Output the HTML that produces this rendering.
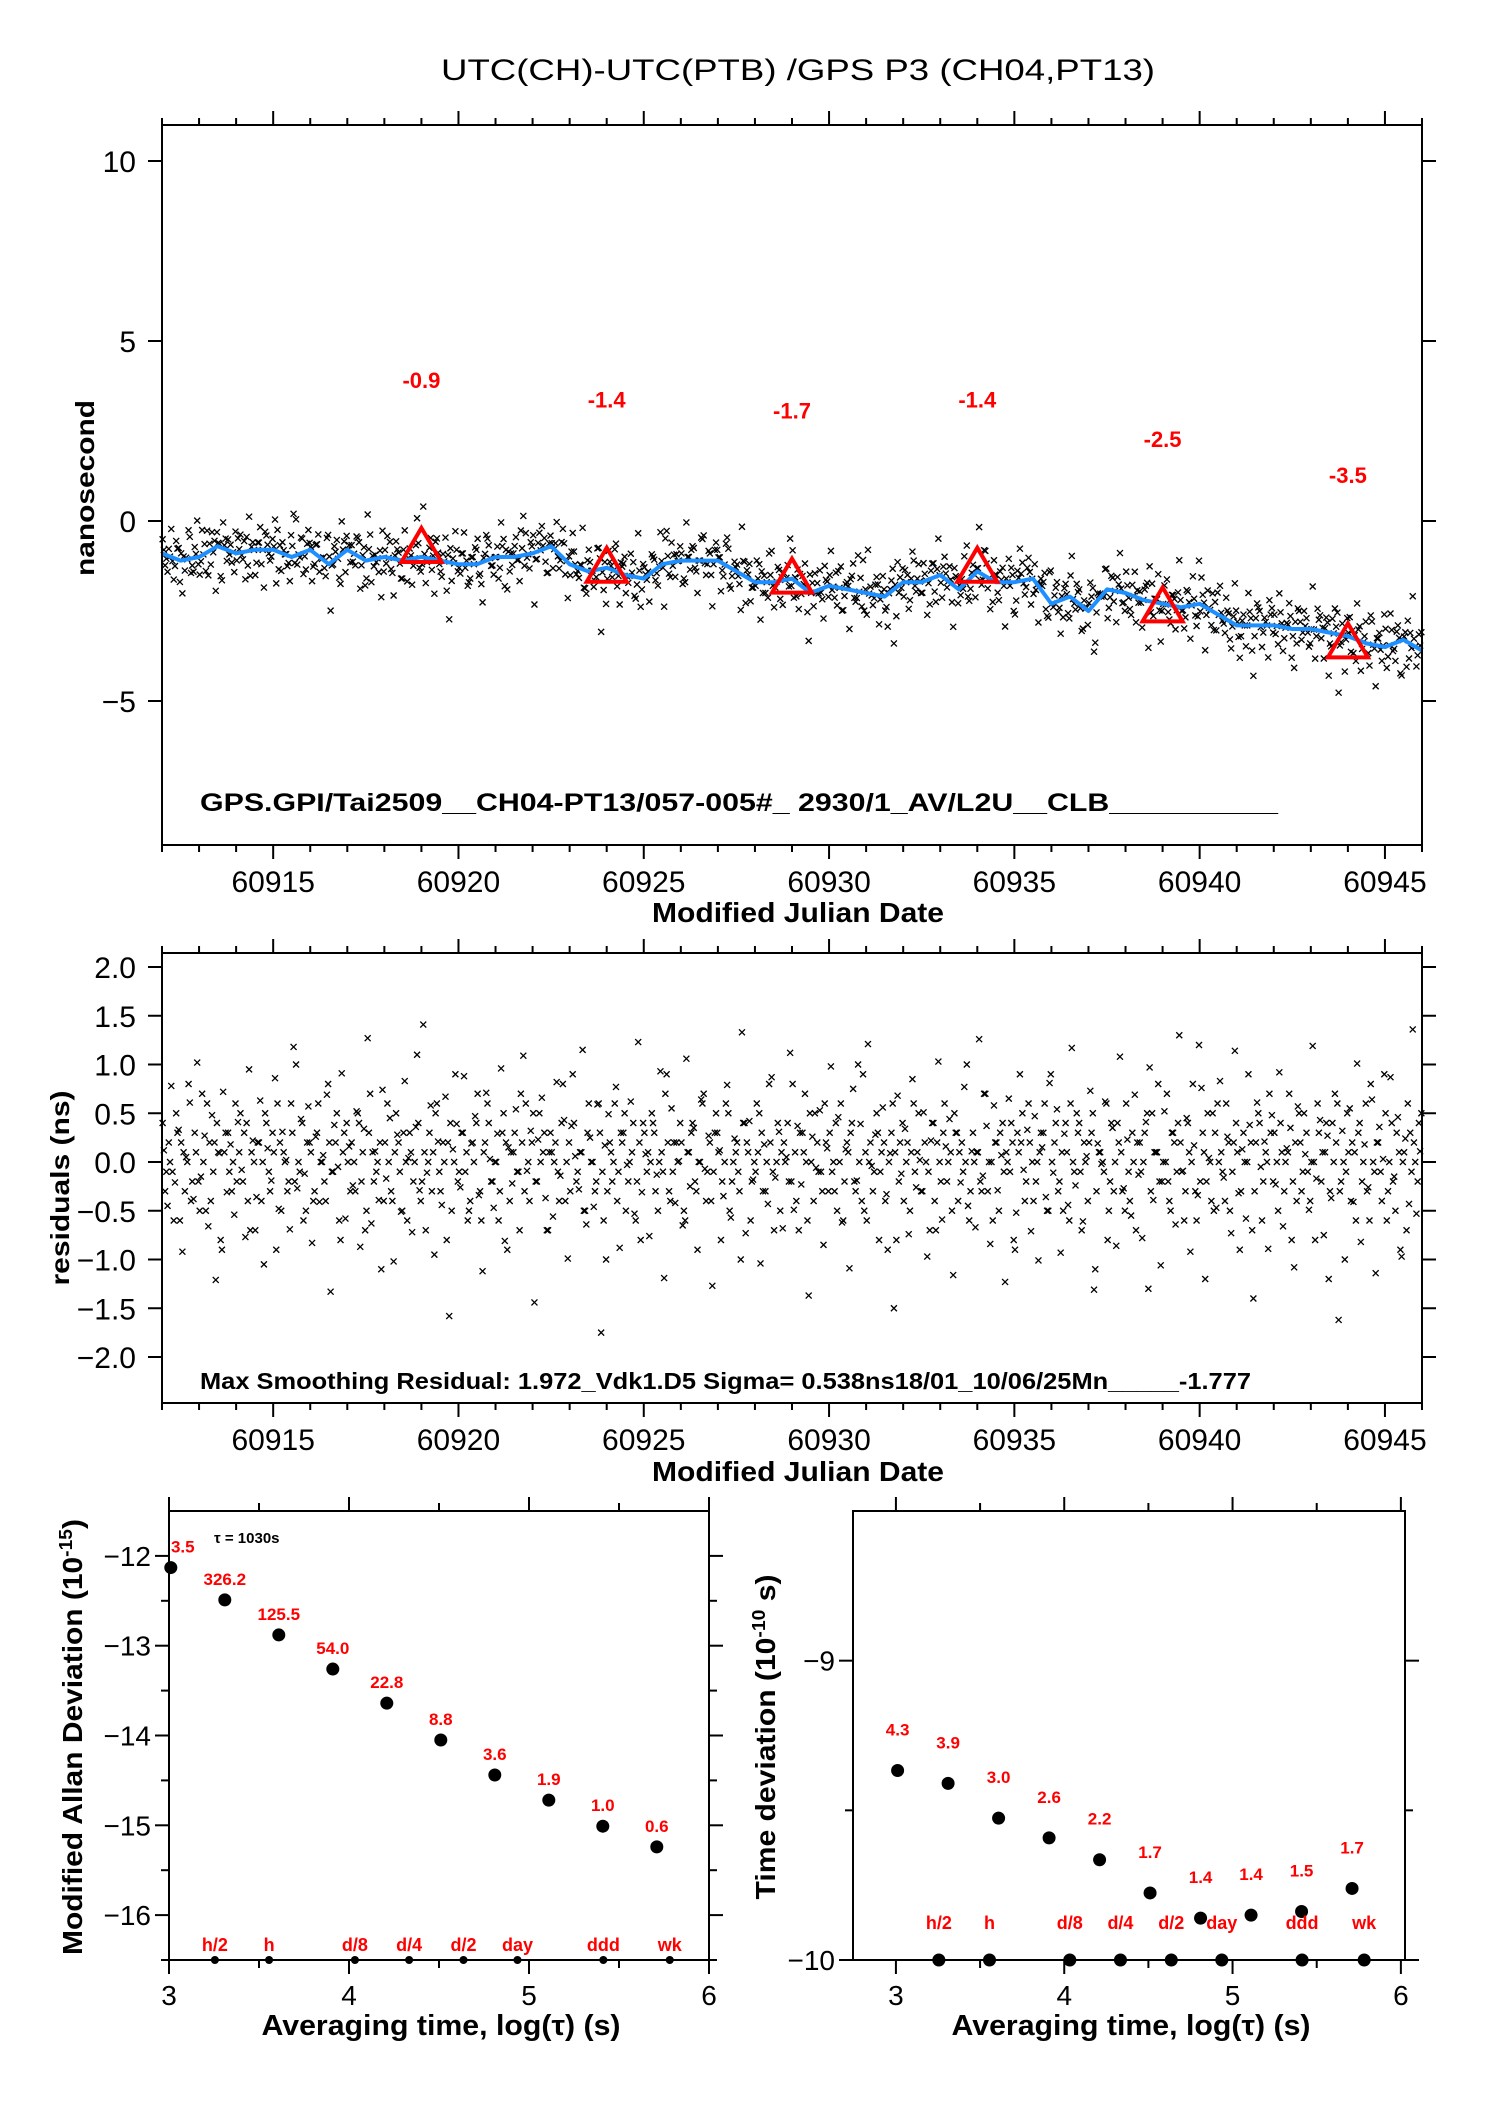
<!DOCTYPE html>
<html><head><meta charset="utf-8"><style>
html,body{margin:0;padding:0;background:#fff}
svg{display:block}
text{font-family:"Liberation Sans",Arial,sans-serif}
</style></head><body>
<svg id="chart" xmlns="http://www.w3.org/2000/svg" width="1488" height="2105" viewBox="0 0 1488 2105">
<rect width="1488" height="2105" fill="#fff"/>
<text x="798" y="80" font-size="30" text-anchor="middle" textLength="714" lengthAdjust="spacingAndGlyphs">UTC(CH)-UTC(PTB)  /GPS  P3  (CH04,PT13)</text>
<g id="g1"></g>
<g id="g2"></g>
<g id="g3"></g>
<g id="g4"></g>
</svg>
<script>
// ---- data ----
const trendDays = [60912,60912.5,60913,60913.5,60914,60914.5,60915,60915.5,60916,60916.5,60917,60917.5,60918,60918.5,60919,60919.5,60920,60920.5,60921,60921.5,60922,60922.5,60923,60923.5,60924,60924.5,60925,60925.5,60926,60926.5,60927,60927.5,60928,60928.5,60929,60929.5,60930,60930.5,60931,60931.5,60932,60932.5,60933,60933.5,60934,60934.5,60935,60935.5,60936,60936.5,60937,60937.5,60938,60938.5,60939,60939.5,60940,60940.5,60941,60941.5,60942,60942.5,60943,60943.5,60944,60944.5,60945,60945.5,60946];
const trendValues = [-0.9,-1.1,-1.0,-0.7,-0.9,-0.8,-0.8,-1.0,-0.8,-1.2,-0.8,-1.1,-1.0,-1.1,-1.0,-1.1,-1.2,-1.2,-1.0,-1.0,-0.9,-0.7,-1.2,-1.4,-1.3,-1.5,-1.6,-1.2,-1.1,-1.1,-1.1,-1.4,-1.7,-1.7,-1.6,-2.0,-1.8,-1.9,-2.0,-2.1,-1.7,-1.7,-1.5,-1.9,-1.4,-1.7,-1.7,-1.6,-2.3,-2.1,-2.5,-1.9,-2.0,-2.2,-2.3,-2.4,-2.3,-2.6,-2.9,-2.9,-2.9,-3.0,-3.0,-3.1,-3.2,-3.4,-3.5,-3.3,-3.6];
const markerDays = [60919,60924,60929,60934,60939,60944];
const markerValues = [-0.75,-1.3,-1.6,-1.3,-2.4,-3.4];
const markerLabels = ["-0.9","-1.4","-1.7","-1.4","-2.5","-3.5"];
const residuals = [0.12,-0.45,0.78,-0.21,0.33,-0.92,0.05,0.61,-0.38,1.02,-0.15,0.27,-0.66,0.48,-1.21,0.09,0.72,-0.31,0.18,-0.54,
0.41,-0.08,-0.77,0.95,0.22,-0.36,0.63,-1.05,0.14,-0.19,0.86,-0.48,0.31,0.02,-0.69,1.18,-0.27,0.44,-0.12,0.57,
-0.83,0.26,-0.41,0.07,0.69,-1.33,0.38,-0.05,0.91,-0.58,0.16,-0.24,0.52,-0.87,0.34,1.27,-0.63,0.11,-0.39,0.74,
-0.17,0.45,-1.02,0.28,-0.51,0.83,0.04,-0.72,0.36,-0.29,1.41,-0.11,0.58,-0.95,0.21,-0.44,0.67,-1.58,0.13,0.39,
-0.26,0.88,-0.6,0.19,0.47,-0.34,-1.12,0.71,0.03,-0.47,0.29,0.96,-0.81,0.15,-0.22,0.54,-0.7,1.09,-0.09,0.32,
-1.44,0.23,0.66,-0.37,0.1,-0.56,0.82,-0.14,0.43,-0.99,0.37,0.06,-0.28,1.15,-0.64,0.25,-0.46,0.59,-1.75,0.17,
0.49,-0.2,0.77,-0.88,0.3,-0.03,0.62,-0.53,1.23,-0.31,0.08,-0.76,0.4,-0.13,0.93,-1.19,0.2,0.55,-0.42,0.01,
-0.65,1.06,-0.25,0.35,-0.9,0.64,-0.07,0.27,-1.27,0.5,0.12,-0.35,0.79,-0.57,0.24,-0.1,1.33,-0.73,0.42,-0.18,
0.6,-1.04,0.18,-0.43,0.87,-0.16,0.31,-0.68,0.05,1.12,-0.49,0.37,-0.23,0.7,-1.37,0.26,-0.06,0.53,-0.85,0.14,
0.98,-0.3,0.46,-0.62,0.13,-1.09,0.75,-0.19,0.39,-0.5,1.21,-0.04,0.28,-0.8,0.56,-0.33,0.09,-1.5,0.68,-0.12,
0.34,-0.74,0.85,-0.26,0.02,0.51,-0.97,0.22,-0.4,1.03,-0.59,0.16,0.44,-1.16,0.3,-0.21,0.77,-0.45,0.11,-0.67,
1.26,-0.14,0.37,-0.84,0.58,-0.29,0.07,-1.23,0.65,0.2,-0.52,0.9,-0.08,0.33,-0.71,0.47,-1.01,0.15,-0.36,0.81,
-0.11,0.54,-0.93,0.29,-0.44,1.17,-0.24,0.4,-0.61,0.06,0.73,-1.31,0.19,-0.02,0.62,-0.5,0.35,-0.86,1.08,-0.27,
0.23,-0.55,0.69,-0.13,-0.78,0.41,0.97,-0.39,0.1,-1.06,0.52,-0.2,0.3,-0.64,1.3,-0.09,0.45,-0.92,0.17,-0.34,
0.76,-1.2,0.04,0.5,-0.47,0.83,-0.16,0.26,-0.73,1.14,-0.32,0.13,-0.58,0.38,-1.4,0.61,-0.05,0.21,-0.89,0.48,
-0.23,0.92,-0.66,0.14,0.35,-1.08,0.57,-0.3,0.08,-0.49,1.19,-0.17,0.43,-0.75,0.27,-0.37,0.7,-1.62,0.32,-0.1,
0.55,-0.41,1.01,-0.82,0.18,-0.26,0.64,-1.14,0.36,0.03,-0.6,0.87,-0.15,0.46,-0.97,0.24,-0.43,1.36,-0.53,0.11];
const residualsB = [-0.3,0.2,-0.1,0.5,-0.6,0.1,0.0,-0.4,0.3,-0.2,0.7,-0.5,0.2,-0.1,0.4,-0.8,0.1,0.3,-0.3,0.6,
0.1,-0.2,0.4,-0.7,0.0,0.2,-0.4,0.5,-0.1,0.3,-0.9,0.2,0.1,-0.3,0.6,-0.2,0.0,0.4,-0.5,0.2,
-0.4,0.3,0.0,-0.2,0.8,-0.1,0.2,-0.6,0.1,0.4,-0.3,0.0,0.5,-0.2,-0.7,0.3,0.1,-0.1,0.2,-0.4,
0.6,-0.3,0.1,0.2,-0.5,0.0,0.3,-0.2,1.1,-0.4,0.1,0.0,-0.3,0.5,-0.1,0.2,-0.8,0.4,0.0,-0.2,
0.3,-0.1,-0.5,0.2,0.4,-0.3,0.1,0.6,-0.2,0.0,-0.6,0.3,0.2,-0.4,0.1,-0.1,0.7,-0.3,0.0,0.2,
-0.2,0.5,0.1,-0.7,0.3,0.0,-0.1,0.4,-0.4,0.2,0.9,-0.2,0.1,-0.5,0.3,0.0,-0.3,0.6,-0.1,-1.0,
0.2,0.0,-0.4,0.3,0.5,-0.2,0.1,-0.6,0.2,0.4,-0.1,0.0,0.3,-0.5,0.1,0.7,-0.3,-0.1,0.2,0.4,
-0.5,0.1,0.3,-0.2,0.0,0.6,-0.4,0.2,-0.1,0.3,-0.8,0.0,0.5,-0.2,0.1,-0.3,0.4,0.2,-0.6,0.0,
0.1,0.3,-0.3,0.8,-0.1,0.0,-0.5,0.2,0.4,-0.2,0.1,-0.7,0.3,0.0,0.5,-0.4,0.2,-0.1,0.6,-0.3,
-0.1,0.4,0.0,-0.6,0.2,0.3,-0.2,1.0,-0.4,0.1,0.0,-0.3,0.5,-0.1,0.2,-0.9,0.3,0.1,-0.2,0.4,
0.0,-0.5,0.6,0.1,-0.3,0.2,-0.1,0.4,-0.7,0.0,0.3,-0.2,0.1,0.5,-0.4,0.2,0.0,-0.6,0.3,0.1,
-0.2,0.7,-0.3,0.0,0.2,-0.5,0.4,0.1,-0.1,-0.8,0.3,0.2,-0.4,0.6,0.0,-0.2,0.1,0.3,-0.5,0.9,
0.2,-0.3,0.1,0.4,-0.6,0.0,0.5,-0.1,0.2,-0.4,0.3,-1.1,0.1,0.0,0.6,-0.2,-0.3,0.4,0.1,-0.5,
-0.1,0.3,-0.7,0.2,0.0,0.5,-0.3,0.1,0.8,-0.2,0.0,-0.4,0.3,-0.1,0.2,-0.6,0.4,0.0,-0.3,1.2,
0.3,-0.2,0.0,-0.5,0.6,0.1,-0.4,0.2,-0.1,0.4,-0.9,0.3,0.0,0.2,-0.3,0.5,-0.6,0.1,0.7,-0.2,
0.0,0.4,-0.3,0.1,-0.8,0.2,0.5,-0.1,0.3,-0.4,0.0,0.6,-0.2,0.1,-1.2,0.4,0.2,-0.3,0.0,0.5,
-0.4,0.1,0.3,-0.2,0.6,-0.6,0.0,0.2,-0.1,0.9,-0.3,0.4,-0.5,0.1,0.0,-0.7,0.3,0.2,-0.2,0.5];
const residualsC = [0.4,-0.1,0.0,-0.6,0.3,0.2,-0.3,0.8,-0.2,0.1,-0.5,0.0,0.6,-0.4,0.2,0.1,-0.9,0.3,-0.1,0.0,
-0.2,0.5,0.3,-0.4,0.1,-0.7,0.2,0.0,0.4,-0.3,0.1,0.6,-0.5,0.0,-0.2,0.3,1.0,-0.1,-0.6,0.2,
0.1,-0.3,0.6,0.0,-0.4,0.2,-0.1,0.5,-0.8,0.3,0.0,0.2,-0.3,0.4,0.1,-0.5,0.7,-0.2,0.0,-1.1,
0.2,0.0,-0.4,0.5,-0.1,0.3,-0.6,0.1,0.0,0.4,-0.2,-0.7,0.3,0.1,0.6,-0.3,0.0,0.2,-0.5,0.9,
-0.1,0.3,0.1,-0.4,0.0,0.7,-0.6,0.2,0.4,-0.2,0.0,-0.3,0.5,-0.9,0.1,0.3,-0.1,0.2,0.6,-0.4,
0.5,-0.2,0.0,0.3,-0.7,0.1,0.2,-0.4,0.8,0.0,-0.3,0.4,-0.1,0.1,-0.5,0.6,0.0,-0.2,0.3,-0.6,
-0.3,0.1,0.6,-0.1,0.2,-0.5,0.0,0.4,-0.2,-0.8,0.3,0.1,0.5,-0.3,0.0,-0.1,0.9,-0.4,0.2,0.0,
0.2,-0.6,0.1,0.4,-0.3,0.0,0.7,-0.1,-0.4,0.3,0.1,-0.2,0.6,-0.5,0.0,0.2,-1.0,0.4,0.1,-0.2,
-0.1,0.5,-0.3,0.0,0.2,-0.7,0.4,0.1,0.0,-0.2,0.8,-0.4,0.3,0.1,-0.6,0.0,0.5,-0.1,-0.3,0.2,
0.3,0.0,-0.5,0.6,-0.2,0.1,0.4,-0.3,0.0,0.9,-0.6,0.2,-0.1,0.3,0.1,-0.4,0.0,0.6,-0.8,0.2,
-0.4,0.2,0.1,-0.1,0.5,-0.3,0.0,-0.7,0.4,0.2,-0.2,0.6,0.0,-0.5,0.3,0.1,-0.1,1.0,-0.3,0.0,
0.1,-0.3,0.7,0.0,-0.6,0.2,0.3,-0.1,0.0,0.4,-0.9,0.1,0.5,-0.2,0.2,-0.4,0.0,0.3,0.6,-0.5,
0.0,0.4,-0.2,-0.5,0.1,0.6,-0.1,0.3,-0.7,0.0,0.2,0.5,-0.3,0.1,-0.1,-0.8,0.4,0.0,0.2,-0.3,
0.6,-0.4,0.0,0.2,-0.1,0.3,-1.3,0.5,0.1,-0.2,0.0,0.7,-0.5,0.2,0.4,-0.1,-0.3,0.1,0.8,-0.6,
-0.2,0.1,0.5,-0.4,0.3,0.0,-0.1,0.6,-0.5,0.2,0.1,-0.3,0.0,0.9,-0.7,0.2,0.4,-0.2,0.0,0.3,
0.3,-0.5,0.1,0.0,0.7,-0.2,-0.4,0.2,0.5,-0.1,0.0,-0.8,0.3,0.1,0.4,-0.3,0.0,0.6,-0.2,-1.0,
0.1,0.2,-0.6,0.4,0.0,-0.3,0.8,-0.1,0.2,-0.4,0.5,0.0,-0.2,0.3,-0.9,0.1,0.6,-0.1,0.0,0.4];
const mjdTicks = [60915,60920,60925,60930,60935,60940,60945];
const p1YTicks = [-5,0,5,10];
const p2YTicks = [-2.0,-1.5,-1.0,-0.5,0.0,0.5,1.0,1.5,2.0];
const mdevLogTau = [3.01,3.31,3.61,3.91,4.21,4.51,4.81,5.11,5.41,5.71];
const mdevValues = [-12.13,-12.49,-12.88,-13.26,-13.64,-14.05,-14.44,-14.72,-15.01,-15.24];
const mdevLabels = ["3.5","326.2","125.5","54.0","22.8","8.8","3.6","1.9","1.0","0.6"];
const tdevLogTau = [3.01,3.31,3.61,3.91,4.21,4.51,4.81,5.11,5.41,5.71];
const tdevValues = [-9.367,-9.41,-9.526,-9.592,-9.665,-9.776,-9.86,-9.85,-9.838,-9.761];
const tdevLabels = ["4.3","3.9","3.0","2.6","2.2","1.7","1.4","1.4","1.5","1.7"];
const periodLogTau = [3.255,3.556,4.033,4.334,4.636,4.936,5.413,5.782];
const periodLabels = ["h/2","h","d/8","d/4","d/2","day","ddd","wk"];
const mdevYTicks = [-16,-15,-14,-13,-12];
const tdevYTicks = [-10,-9];
const logTicks = [3,4,5,6];

// ---- helpers ----
const NS='http://www.w3.org/2000/svg';
function el(parent,tag,attrs,txt){const e=document.createElementNS(NS,tag);for(const k in attrs)e.setAttribute(k,attrs[k]);if(txt!==undefined)e.textContent=txt;parent.appendChild(e);return e;}
function lin(d0,d1,r0,r1){return v=>r0+(v-d0)*(r1-r0)/(d1-d0);}
function trendAt(t){for(let i=0;i<trendDays.length-1;i++){if(t<=trendDays[i+1]){const f=(t-trendDays[i])/(trendDays[i+1]-trendDays[i]);return trendValues[i]+f*(trendValues[i+1]-trendValues[i]);}}return trendValues[trendValues.length-1];}
function frame(g,L,T,R,B){const r=el(g,'rect',{x:L,y:T,width:R-L,height:B-T,fill:'none',stroke:'#000','stroke-width':2});

}
function tick(g,x1,y1,x2,y2){el(g,'line',{x1,y1,x2,y2,stroke:'#000','stroke-width':2});}
function cross(g,x,y){const p=el(g,'path',{d:`M${x-3} ${y-3}L${x+3} ${y+3}M${x-3} ${y+3}L${x+3} ${y-3}`,stroke:'#000','stroke-width':1.3,fill:'none'});

}
const seriesSets=[[residuals,0.05],[residualsB,0.083],[residualsC,0.017]];

// ---- Panel 1 ----
(function(){
const g=document.getElementById('g1');
const L=162,R=1422,T=125,B=845;
const x=lin(60912,60946,L,R), y=lin(-9,11,B,T);
seriesSets.forEach(([arr,off])=>{for(let i=0;i<arr.length;i++){const t=60912+off+i*0.1;cross(g,x(t),y(trendAt(t)+arr[i]));}});
let d='';trendDays.forEach((t,i)=>{d+=(i?'L':'M')+x(t).toFixed(1)+' '+y(trendValues[i]).toFixed(1);});
const line=el(g,'path',{d,stroke:'#1e8fff','stroke-width':4,fill:'none','stroke-linejoin':'round'});


markerDays.forEach((t,i)=>{const cx=x(t),cy=y(markerValues[i]);
const tri=el(g,'path',{d:`M${cx} ${cy-20}L${cx+20} ${cy+14}L${cx-20} ${cy+14}Z`,fill:'none',stroke:'#f00','stroke-width':4});


const lb=el(g,'text',{x:cx,y:y(markerValues[i]+4.45),'font-size':22,'font-weight':'bold',fill:'#f00','text-anchor':'middle'},markerLabels[i]);

});
frame(g,L,T,R,B);
for(let dd=60912;dd<=60946;dd++){const maj=dd%5===0;const len=maj?14:7;tick(g,x(dd),T,x(dd),T-len);tick(g,x(dd),B,x(dd),B+len);}
mjdTicks.forEach(v=>{const t=el(g,'text',{x:x(v),y:892,'font-size':30,'text-anchor':'middle'},String(v));

});
p1YTicks.forEach(v=>{tick(g,L,y(v),L-14,y(v));tick(g,R,y(v),R+14,y(v));
const t=el(g,'text',{x:136,y:y(v)+11,'font-size':30,'text-anchor':'end'},v<0?'\u2212'+Math.abs(v):String(v));

});
const xt=el(g,'text',{x:798,y:922,'font-size':28,'font-weight':'bold','text-anchor':'middle',textLength:292,lengthAdjust:'spacingAndGlyphs'},'Modified Julian Date');


const yt=el(g,'text',{x:0,y:0,'font-size':26,'font-weight':'bold','text-anchor':'middle',transform:'translate(94,488) rotate(-90)',textLength:176,lengthAdjust:'spacingAndGlyphs'},'nanosecond');


const an=el(g,'text',{x:200,y:811,'font-size':25,'font-weight':'bold',textLength:1078,lengthAdjust:'spacingAndGlyphs'},'GPS.GPI/Tai2509__CH04-PT13/057-005#_  2930/1_AV/L2U__CLB__________');


})();

// ---- Panel 2 ----
(function(){
const g=document.getElementById('g2');
const L=162,R=1422,T=953,B=1403;
const x=lin(60912,60946,L,R), y=lin(-2.0,2.0,1357,967);
seriesSets.forEach(([arr,off])=>{for(let i=0;i<arr.length;i++){const t=60912+off+i*0.1;cross(g,x(t),y(arr[i]));}});
frame(g,L,T,R,B);
for(let dd=60912;dd<=60946;dd++){const maj=dd%5===0;const len=maj?14:7;tick(g,x(dd),T,x(dd),T-len);tick(g,x(dd),B,x(dd),B+len);}
mjdTicks.forEach(v=>{const t=el(g,'text',{x:x(v),y:1450,'font-size':30,'text-anchor':'middle'},String(v));

});
p2YTicks.forEach(v=>{tick(g,L,y(v),L-14,y(v));tick(g,R,y(v),R+14,y(v));
const s=v<0?'\u2212'+Math.abs(v).toFixed(1):v.toFixed(1);
const t=el(g,'text',{x:136,y:y(v)+11,'font-size':30,'text-anchor':'end'},s);

});
const xt=el(g,'text',{x:798,y:1481,'font-size':28,'font-weight':'bold','text-anchor':'middle',textLength:292,lengthAdjust:'spacingAndGlyphs'},'Modified Julian Date');


const yt=el(g,'text',{x:0,y:0,'font-size':26,'font-weight':'bold','text-anchor':'middle',transform:'translate(69,1188) rotate(-90)',textLength:195,lengthAdjust:'spacingAndGlyphs'},'residuals (ns)');


const an=el(g,'text',{x:200,y:1389,'font-size':23,'font-weight':'bold',textLength:1051,lengthAdjust:'spacingAndGlyphs'},'Max Smoothing Residual: 1.972_Vdk1.D5  Sigma= 0.538ns18/01_10/06/25Mn_____-1.777');


})();

// ---- Stability panels ----
function stabPanel(id,L,R,T,B,xd0,xd1,yd0,yd1,xs,ys,labs,yTicks,minorY,labOff,periodY,dotR,yTitle,yTitleX,yTitleLen,extra){
const g=document.getElementById(id);
const x=lin(xd0,xd1,L,R), y=lin(yd0,yd1,B,T);
frame(g,L,T,R,B);
for(let v=3;v<=6;v+=0.5){const maj=Number.isInteger(v);const len=maj?14:8;tick(g,x(v),T,x(v),T-len);tick(g,x(v),B,x(v),B+len);}
minorY.forEach(v=>{const maj=yTicks.includes(v);const len=maj?14:8;tick(g,L,y(v),L-len,y(v));tick(g,R,y(v),R+len,y(v));});
logTicks.forEach(v=>{const t=el(g,'text',{x:x(v),y:2005,'font-size':28,'text-anchor':'middle'},String(v));

});
yTicks.forEach(v=>{const t=el(g,'text',{x:L-18,y:y(v)+10,'font-size':28,'text-anchor':'end'},'\u2212'+Math.abs(v));

});
xs.forEach((v,i)=>{const c=el(g,'circle',{cx:x(v),cy:y(ys[i]),r:6.5,fill:'#000'});


const t=el(g,'text',{x:x(v)+(i===0&&id==='g3'?12:0),y:y(ys[i])-labOff,'font-size':17,'font-weight':'bold',fill:'#f00','text-anchor':'middle'},labs[i]);

});
periodLogTau.forEach((v,i)=>{const c=el(g,'circle',{cx:x(v),cy:B,r:dotR,fill:'#000'});


const t=el(g,'text',{x:x(v),y:periodY,'font-size':18,'font-weight':'bold',fill:'#f00','text-anchor':'middle'},periodLabels[i]);

});
const xt=el(g,'text',{x:(L+R)/2+2,y:2035,'font-size':29,'font-weight':'bold','text-anchor':'middle',textLength:359,lengthAdjust:'spacingAndGlyphs'},'Averaging time, log(τ) (s)');


const yt=el(g,'text',{x:0,y:0,'font-size':28,'font-weight':'bold','text-anchor':'middle',transform:`translate(${yTitleX},1737) rotate(-90)`,textLength:yTitleLen,lengthAdjust:'spacingAndGlyphs'});


yt.innerHTML=yTitle;
if(extra)extra(g,x,y);
}
stabPanel('g3',169,709,1511,1960,3,6,-16.5,-11.5,mdevLogTau,mdevValues,mdevLabels,mdevYTicks,[-16.5,-16,-15.5,-15,-14.5,-14,-13.5,-13,-12.5,-12],15,1951,4,
'Modified Allan Deviation (10<tspan dy="-10" font-size="18">-15</tspan><tspan dy="10">)</tspan>',82,436,
(g)=>{const t=el(g,'text',{x:214,y:1543,'font-size':15,'font-weight':'bold'},'τ = 1030s');

});
stabPanel('g4',853,1405,1511,1960,2.745,6.0245,-10,-8.5,tdevLogTau,tdevValues,tdevLabels,tdevYTicks,[-10,-9.5,-9],35,1929,6.5,
'Time deviation (10<tspan dy="-10" font-size="18">-10</tspan><tspan dy="10"> s)</tspan>',775,325,null);
</script>
</body></html>
